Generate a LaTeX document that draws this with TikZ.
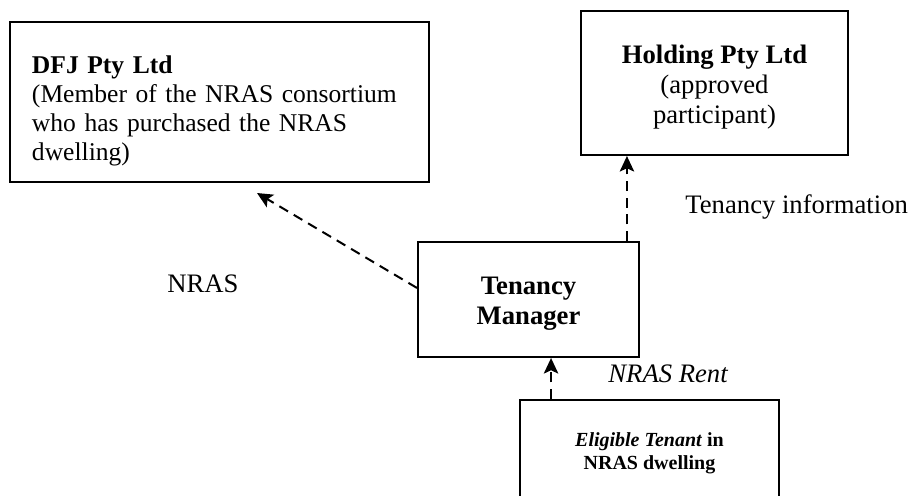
\documentclass[tikz,border=0pt]{standalone}
\usepackage{fontspec}
\setmainfont{Liberation Serif}
\usetikzlibrary{arrows.meta,positioning}

\tikzset{
    box/.style={draw,line width=0.9pt,align=center,inner sep=0pt,
        font=\fontsize{12}{13.5}\selectfont},
    flow/.style={-{Stealth[length=7pt,width=6.5pt,inset=1.5pt]},line width=0.9pt,
        dash pattern=on 4.5pt off 3pt},
    lbl/.style={inner sep=0pt,anchor=base west,font=\fontsize{12}{13.5}\selectfont}
}

\begin{document}
\begin{tikzpicture}[x=0.45pt,y=-0.45pt]
    \useasboundingbox (0,0) rectangle (910,495);
    \clip (0,0) rectangle (910,495);

    \node[box,align=left,text width=188.75pt,minimum height=72pt,font=\fontsize{11.5}{13.1}\selectfont] (dfj) at (219.5,102)
        {\leftskip=10pt\rightskip=0pt plus 1fil\rule{0pt}{16pt}\textbf{DFJ Pty Ltd}\\(Member of the NRAS consortium\\who has purchased the NRAS\\dwelling)\par};
    \node[box,minimum width=120.15pt,minimum height=64.8pt] (holding) at (714.5,83)
        {\rule{0pt}{12pt}\textbf{Holding Pty Ltd}\\(approved\\participant)};
    \node[box,minimum width=99.45pt,minimum height=51.75pt,font=\fontsize{12}{13.5}\selectfont\bfseries] (mgr) at (528.5,299.5)
        {\rule{0pt}{12pt}Tenancy\\Manager};
    \node[box,anchor=north,minimum width=116.55pt,minimum height=47.7pt,font=\fontsize{9}{10.4}\selectfont\bfseries] (tenant) at (649.5,399)
        {\textit{Eligible Tenant} in\\NRAS dwelling};

    \node[lbl] (nras) at (167,292) {NRAS};
    \node[lbl] (info) at (685,213) {Tenancy information};
    \node[lbl,font=\fontsize{12}{13.5}\selectfont\itshape] (rent) at (608,382) {NRAS Rent};

    \coordinate (dfjtip) at (257,193);

    \draw[flow] ([yshift=5.2pt]mgr.west) -- (dfjtip);
    \draw[flow] ([xshift=44.3pt]mgr.north) -- ([xshift=44.3pt]mgr.north |- holding.south);
    \draw[flow] ([xshift=-44.3pt]tenant.north) -- ([xshift=-44.3pt]tenant.north |- mgr.south);
\end{tikzpicture}
\end{document}
